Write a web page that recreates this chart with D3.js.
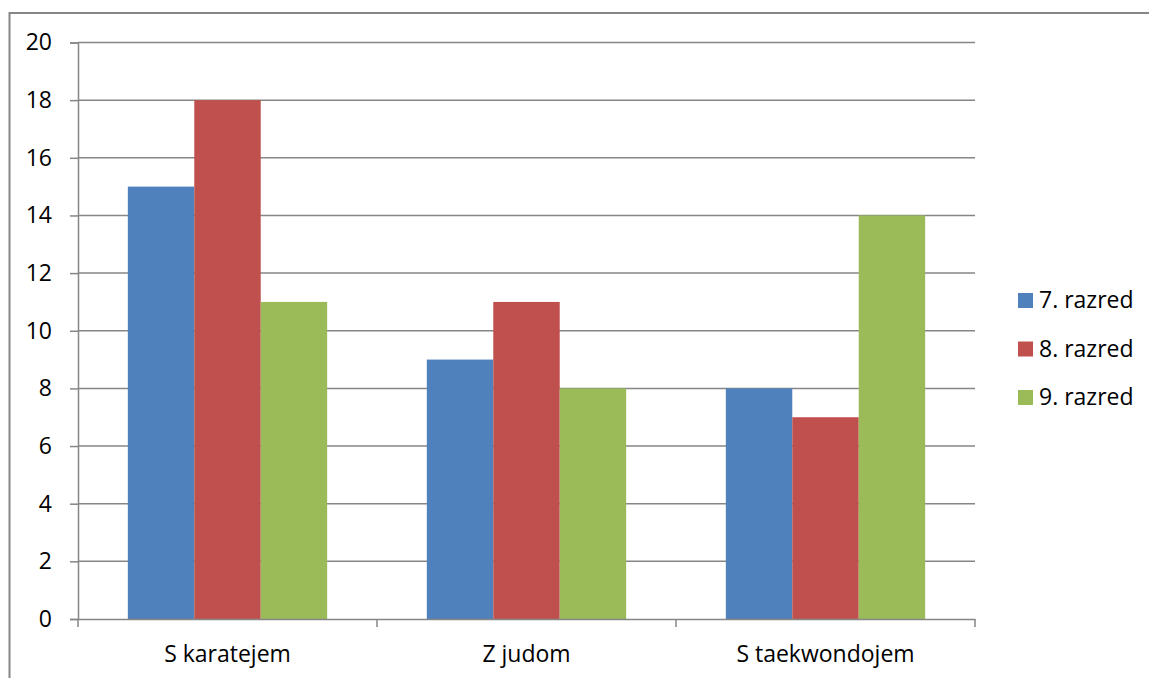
<!DOCTYPE html>
<html>
<head>
<meta charset="utf-8">
<script src="https://cdn.jsdelivr.net/npm/d3@7"></script>
<style>
  html, body { margin: 0; padding: 0; background: #fff; }
  svg { display: block; font-family: "Open Sans", "Noto Sans", sans-serif; }
</style>
</head>
<body>
<svg id="chart" width="1149" height="678"></svg>
<script>
// Categories, series and values
const categories = ["S karatejem", "Z judom", "S taekwondojem"];
const seriesNames = ["7. razred", "8. razred", "9. razred"];
const razred7 = [15, 9, 8];
const razred8 = [18, 11, 7];
const razred9 = [11, 8, 14];
const yTicks = [0, 2, 4, 6, 8, 10, 12, 14, 16, 18, 20];
const colors = ["#4F81BD", "#C0504D", "#9BBB59"];

const seriesValues = [razred7, razred8, razred9];
const FONT = "'Open Sans', 'Noto Sans', sans-serif";
const FONT_SIZE = 23;

const svg = d3.select("#chart");

// Outer frame (top and left edges visible)
svg.append("path")
  .attr("d", "M9.5,678 L9.5,13 L1149,13")
  .attr("fill", "none")
  .attr("stroke", "#868686")
  .attr("stroke-width", 2);

const plot = { left: 78, right: 975, top: 42.5, bottom: 619 };

const x0 = d3.scaleBand()
  .domain(categories)
  .range([plot.left, plot.right])
  .paddingInner(0)
  .paddingOuter(0);

const x1 = d3.scaleBand()
  .domain(seriesNames)
  .range([0, x0.bandwidth()])
  .paddingInner(0)
  .paddingOuter(0.75);

const y = d3.scaleLinear().domain([0, 20]).range([plot.bottom, plot.top]);

// Horizontal gridlines
svg.append("g")
  .selectAll("line")
  .data(yTicks.filter(d => d > 0))
  .join("line")
  .attr("x1", plot.left)
  .attr("x2", plot.right)
  .attr("y1", d => y(d))
  .attr("y2", d => y(d))
  .attr("stroke", "#868686")
  .attr("stroke-width", 1.5);

// Bars
const groups = svg.append("g")
  .selectAll("g")
  .data(categories)
  .join("g")
  .attr("transform", d => `translate(${x0(d)},0)`);

groups.selectAll("rect")
  .data((d, i) => seriesNames.map((s, j) => ({ s, v: seriesValues[j][i], j })))
  .join("rect")
  .attr("x", d => x1(d.s))
  .attr("width", x1.bandwidth())
  .attr("y", d => y(d.v))
  .attr("height", d => y(0) - y(d.v))
  .attr("fill", d => colors[d.j]);

// Y axis
const yAxis = svg.append("g")
  .attr("transform", `translate(${plot.left},0)`)
  .call(d3.axisLeft(y).tickValues(yTicks).tickSize(8).tickPadding(18).tickFormat(d3.format("d")));
yAxis.select(".domain").attr("stroke", "#868686").attr("stroke-width", 1.5);
yAxis.selectAll(".tick line").attr("stroke", "#868686").attr("stroke-width", 1.5);
yAxis.selectAll(".tick text")
  .attr("font-size", FONT_SIZE)
  .attr("font-family", FONT)
  .attr("fill", "#000");

// X axis
const xAxis = svg.append("g")
  .attr("transform", `translate(0,${plot.bottom})`)
  .call(d3.axisBottom(x0).tickSize(0));
xAxis.select(".domain").attr("stroke", "#868686").attr("stroke-width", 1.5);
xAxis.selectAll(".tick text")
  .attr("y", 43)
  .attr("dy", null)
  .attr("font-size", FONT_SIZE)
  .attr("font-family", FONT)
  .attr("fill", "#000");

// Category separator ticks on the x axis
const edges = categories.map(c => x0(c)).concat([x0(categories[categories.length - 1]) + x0.bandwidth()]);
svg.append("g")
  .selectAll("line")
  .data(edges)
  .join("line")
  .attr("x1", d => d)
  .attr("x2", d => d)
  .attr("y1", plot.bottom)
  .attr("y2", plot.bottom + 8)
  .attr("stroke", "#868686")
  .attr("stroke-width", 1.5);

// Legend
const legend = svg.append("g")
  .selectAll("g")
  .data(seriesNames)
  .join("g")
  .attr("transform", (d, i) => `translate(1018, ${293 + i * 48.5})`);

legend.append("rect")
  .attr("x", 0)
  .attr("y", 0)
  .attr("width", 15)
  .attr("height", 15)
  .attr("fill", (d, i) => colors[i]);

legend.append("text")
  .attr("x", 21)
  .attr("y", 15)
  .attr("font-size", FONT_SIZE)
  .attr("font-family", FONT)
  .attr("fill", "#000")
  .text(d => d);
</script>
</body>
</html>
